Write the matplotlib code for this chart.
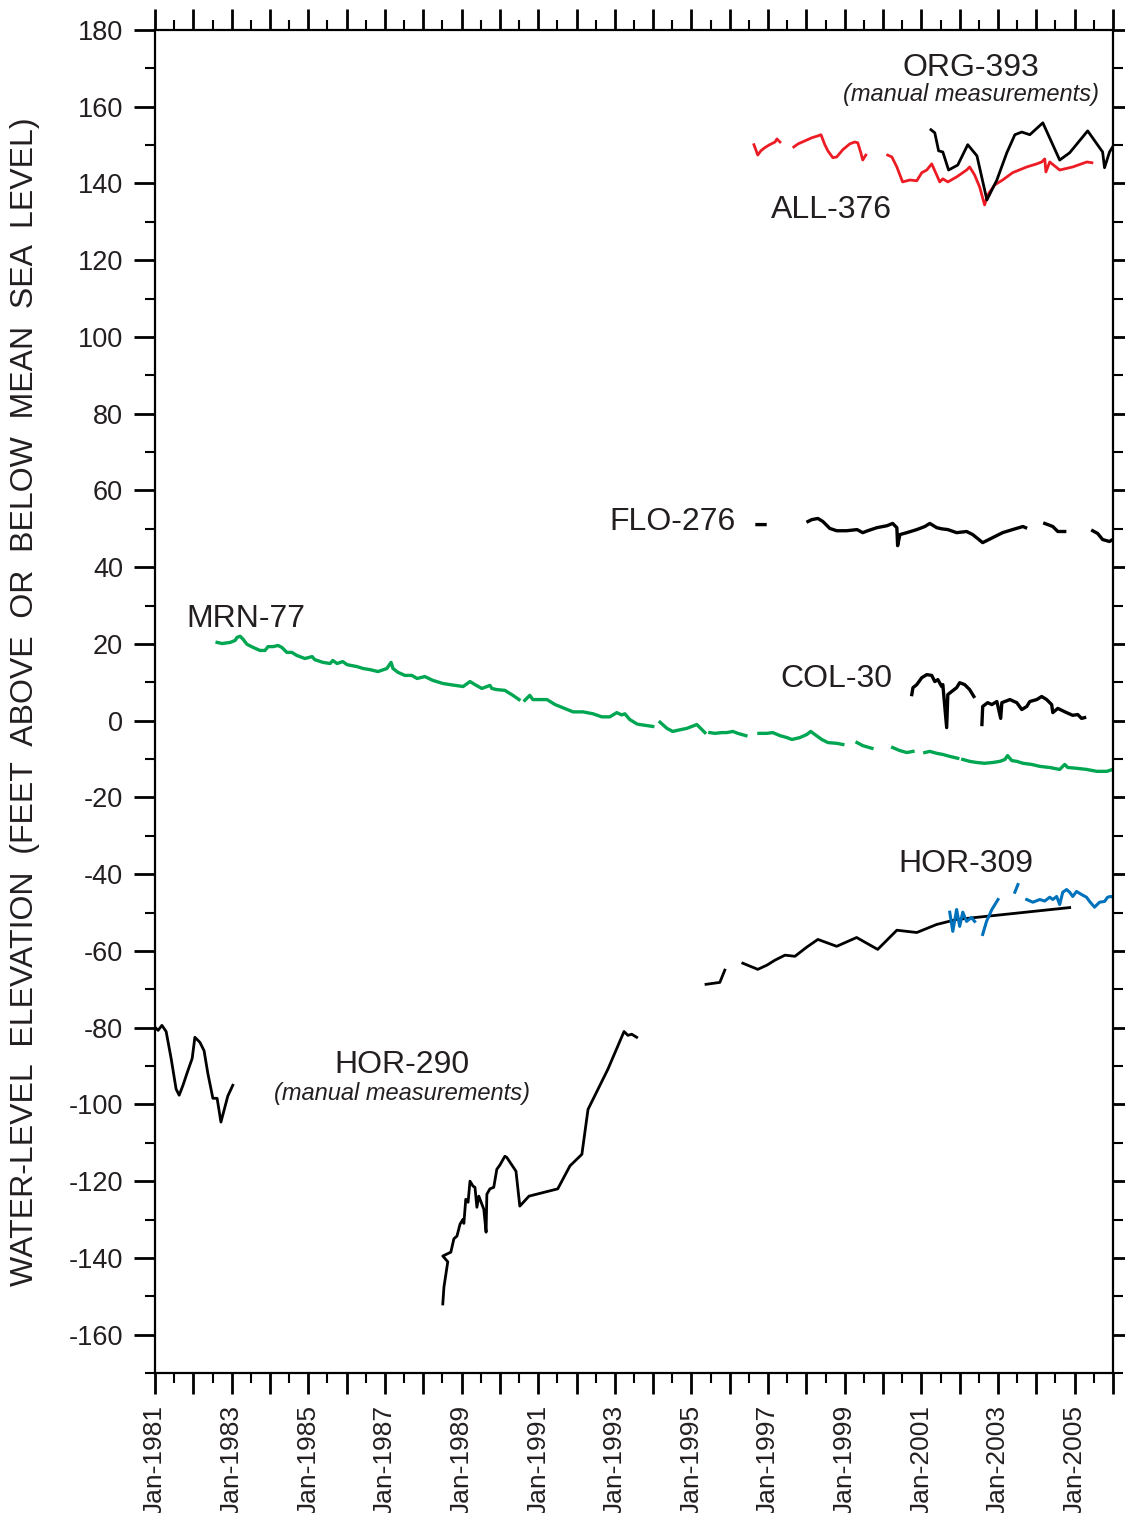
import numpy as np
import matplotlib
matplotlib.use("Agg")
import matplotlib.pyplot as plt
from matplotlib.ticker import MultipleLocator

plt.rcParams['font.family'] = ['Liberation Sans', 'DejaVu Sans']

nan = np.nan
TXT = "#231f20"

# HOR-290 (manual measurements), decimal years / feet
hor290_x = [1981.0, 1981.08, 1981.18, 1981.29, 1981.42, 1981.55, 1981.63, 1981.73, 1981.83,
            1981.97, 1982.04, 1982.17, 1982.28, 1982.38, 1982.51, 1982.62, 1982.72, 1982.90,
            1983.03, nan,
            1988.51, 1988.54, 1988.64, 1988.51, 1988.72, 1988.80, 1988.88, 1988.96, 1989.04,
            1989.06, 1989.11, 1989.17, 1989.22, 1989.30, 1989.35, 1989.40, 1989.45, 1989.53,
            1989.58, 1989.64, 1989.66, 1989.74, 1989.84, 1989.92, 1990.00, 1990.13, 1990.18,
            1990.42, 1990.52, 1990.76, 1991.51, 1991.83, 1992.14, 1992.30, 1992.82, 1993.24,
            1993.34, 1993.44, 1993.57]
hor290_y = [-79.9, -80.7, -79.4, -81.0, -88.0, -96.0, -97.6, -95.0, -92.0,
            -88.0, -82.5, -83.8, -86.0, -92.0, -98.4, -98.4, -104.6, -97.8,
            -95.0, nan,
            -152.0, -147.6, -141.0, -139.5, -138.5, -135.0, -134.3, -131.2, -129.9,
            -131.0, -124.7, -125.5, -120.0, -121.3, -121.6, -126.8, -123.9, -126.0,
            -127.3, -133.3, -123.4, -122.0, -121.6, -116.9, -115.8, -113.5, -113.8,
            -117.4, -126.5, -123.9, -122.0, -116.0, -113.0, -101.3, -90.8, -81.0,
            -82.0, -81.7, -82.5]

# HOR-309 manual (black)
hor309m_x = [1995.38, 1995.74, 1995.87, nan, 1996.34, 1996.73, 1996.97, 1997.18, 1997.44,
             1997.70, 1998.01, 1998.30, 1998.79, 1999.31, 1999.86, 2000.36, 2000.88,
             2001.40, 2001.92, 2004.87]
hor309m_y = [-68.7, -68.2, -65.0, nan, -63.2, -64.8, -63.7, -62.4, -61.1,
             -61.4, -59.0, -57.0, -58.8, -56.5, -59.6, -54.6, -55.2,
             -53.1, -51.8, -48.7]

# HOR-309 continuous (blue)
hor309_x = [2001.74, 2001.82, 2001.92, 2002.00, 2002.08, 2002.18, 2002.31, 2002.39, nan,
            2002.60, 2002.70, 2002.84, 2003.00, nan, 2003.44, 2003.52, nan,
            2003.75, 2003.91, 2004.09, 2004.22, 2004.35, 2004.43, 2004.53, 2004.61, 2004.69,
            2004.79, 2004.87, 2004.95, 2005.05, 2005.18, 2005.31, 2005.39, 2005.52, 2005.65,
            2005.78, 2005.86, 2005.94, 2006.0]
hor309_y = [-49.9, -54.9, -49.2, -53.6, -49.9, -52.3, -51.3, -52.3, nan,
            -55.7, -52.3, -49.2, -46.6, nan, -44.7, -42.7, nan,
            -46.6, -47.3, -46.6, -47.0, -46.0, -46.6, -45.8, -47.9, -44.7,
            -44.0, -44.7, -45.8, -44.5, -45.3, -46.0, -47.1, -48.6, -47.3,
            -47.1, -46.0, -45.8, -46.0]

# MRN-77 (green)
mrn_x = [1982.62, 1982.75, 1982.96, 1983.09, 1983.14, 1983.22, 1983.30, 1983.40, 1983.56,
         1983.74, 1983.87, 1983.95, 1984.08, 1984.21, 1984.31, 1984.44, 1984.57, 1984.70,
         1984.91, 1985.10, 1985.17, 1985.38, 1985.57, 1985.64, 1985.75, 1985.90, 1986.01,
         1986.27, 1986.43, 1986.61, 1986.82, 1987.05, 1987.16, 1987.21, 1987.34, 1987.52,
         1987.70, 1987.84, 1988.04, 1988.25, 1988.51, 1988.70, 1989.04, 1989.22, 1989.35,
         1989.53, 1989.74, 1989.79, 1989.92, 1990.13, 1990.34, 1990.50, nan,
         1990.65, 1990.78, 1990.86, 1991.04, 1991.23, 1991.44, 1991.64, 1991.91, 1992.17,
         1992.43, 1992.66, 1992.87, 1993.05, 1993.18, 1993.26, 1993.39, 1993.57, nan,
         1993.65, 1993.99, nan,
         1994.18, 1994.36, 1994.51, 1994.64, 1994.88, 1995.01, 1995.14, 1995.27, 1995.35, nan,
         1995.48, 1995.61, 1995.79, 1995.92, 1996.08, 1996.21, 1996.42, nan,
         1996.76, 1996.97, 1997.12, 1997.31, 1997.49, 1997.62, 1997.83, 1998.01, 1998.11,
         1998.22, 1998.40, 1998.56, 1998.79, 1998.95, nan,
         1999.32, 1999.47, 1999.71, nan,
         2000.25, 2000.44, 2000.62, 2000.78, nan,
         2001.09, 2001.22, 2001.40, 2001.56, 2001.74, 2001.95, nan,
         2002.08, 2002.26, 2002.45, 2002.65, 2002.86, 2003.05, 2003.18, 2003.25, 2003.36,
         2003.49, 2003.65, 2003.88, 2004.09, 2004.35, 2004.61, 2004.74, 2004.82, 2005.05,
         2005.31, 2005.58, 2005.84, 2005.99]
mrn_y = [20.4, 20.1, 20.4, 20.9, 21.7, 22.0, 21.2, 19.9, 19.1,
         18.3, 18.3, 19.3, 19.3, 19.6, 19.1, 17.8, 17.8, 17.0,
         16.2, 16.7, 15.9, 15.2, 14.9, 15.7, 14.9, 15.4, 14.6,
         14.1, 13.6, 13.3, 12.8, 13.6, 15.2, 13.6, 12.6, 11.8,
         11.8, 11.0, 11.5, 10.5, 9.7, 9.4, 8.9, 10.2, 9.4,
         8.4, 9.2, 8.4, 8.1, 7.9, 6.6, 5.5, nan,
         5.3, 6.6, 5.5, 5.5, 5.5, 4.2, 3.4, 2.3, 2.3,
         1.8, 1.0, 1.0, 2.1, 1.5, 1.8, 0.3, -0.8, nan,
         -1.0, -1.5, nan,
         -0.4, -2.0, -2.8, -2.5, -2.0, -1.5, -1.0, -2.3, -3.1, nan,
         -3.1, -3.3, -3.1, -3.1, -2.8, -3.3, -3.9, nan,
         -3.3, -3.3, -3.1, -3.9, -4.4, -4.9, -4.4, -3.6, -2.8,
         -3.6, -4.9, -5.7, -5.9, -6.2, nan,
         -5.7, -6.5, -7.2, nan,
         -7.0, -7.8, -8.3, -8.0, nan,
         -8.3, -8.0, -8.5, -8.8, -9.3, -9.8, nan,
         -10.1, -10.6, -10.9, -11.1, -10.9, -10.6, -10.1, -9.1, -10.4,
         -10.6, -11.1, -11.4, -11.9, -12.2, -12.7, -11.4, -12.2, -12.4,
         -12.7, -13.2, -13.2, -12.7]

# FLO-276
flo_x = [1996.71, 1996.92, nan,
         1998.04, 1998.14, 1998.30, 1998.43, 1998.61, 1998.79, 1999.05, 1999.32, 1999.47,
         1999.60, 1999.84, 2000.10, 2000.25, 2000.36, 2000.38, 2000.44, 2000.62, 2000.88,
         2001.09, 2001.22, 2001.40, 2001.53, 2001.69, 2001.92, 2002.18, 2002.34, 2002.60,
         2002.86, 2003.12, 2003.38, 2003.65, 2003.72, nan,
         2004.22, 2004.43, 2004.56, 2004.74, nan,
         2005.47, 2005.60, 2005.73, 2005.91, 2005.99]
flo_y = [51.1, 51.1, nan,
         51.9, 52.4, 52.7, 51.9, 50.1, 49.5, 49.5, 49.8, 49.0,
         49.5, 50.3, 50.8, 51.4, 50.3, 45.6, 48.5, 49.0, 49.8,
         50.6, 51.4, 50.3, 50.0, 49.8, 49.0, 49.3, 48.5, 46.4,
         47.7, 49.0, 49.8, 50.6, 50.3, nan,
         51.4, 50.6, 49.3, 49.3, nan,
         49.5, 48.8, 47.2, 46.7, 47.2]

# COL-30
col_x = [2000.75, 2000.78, 2000.88, 2001.01, 2001.14, 2001.27, 2001.35, 2001.43, 2001.53,
         2001.56, 2001.66, 2001.69, 2001.79, 2001.92, 2002.00, 2002.13, 2002.26, 2002.37, nan,
         2002.58, 2002.60, 2002.73, 2002.84, 2002.97, 2003.07, 2003.10, 2003.18, 2003.31,
         2003.49, 2003.62, 2003.75, 2003.83, 2004.01, 2004.14, 2004.27, 2004.40, 2004.43,
         2004.56, 2004.79, 2004.95, 2005.08, 2005.18, 2005.26]
col_y = [6.8, 8.6, 9.4, 11.2, 12.0, 11.8, 10.2, 10.7, 8.9,
         9.4, -1.8, 6.8, 7.6, 8.6, 9.9, 9.4, 8.1, 6.3, nan,
         -1.0, 3.7, 4.7, 4.2, 5.0, 0.6, 4.7, 5.0, 5.5,
         4.7, 2.9, 3.7, 5.0, 5.5, 6.3, 5.5, 4.2, 2.1,
         3.2, 2.1, 1.4, 1.6, 0.6, 0.8]

# ALL-376 (red)
all_x = [1996.63, 1996.73, 1996.81, 1996.91, 1997.04, 1997.18, 1997.23, 1997.31, nan,
         1997.67, 1997.78, 1997.96, 1998.14, 1998.30, 1998.38, 1998.48, 1998.56, 1998.69,
         1998.79, 1998.95, 1999.13, 1999.26, 1999.34, 1999.42, 1999.47, 1999.55, nan,
         2000.12, 2000.23, 2000.36, 2000.44, 2000.51, 2000.70, 2000.88, 2001.01, 2001.14,
         2001.27, 2001.40, 2001.48, 2001.56, 2001.69, 2001.92, 2002.18, 2002.26, 2002.39,
         2002.52, 2002.65, 2002.73, 2002.91, 2003.12, 2003.38, 2003.75, 2004.01, 2004.14,
         2004.22, 2004.25, 2004.35, 2004.61, 2004.95, 2005.32, 2005.45]
all_y = [150.1, 147.4, 148.5, 149.3, 150.1, 150.8, 151.6, 150.8, nan,
         149.5, 150.3, 151.1, 151.9, 152.4, 152.7, 150.1, 148.5, 146.7,
         146.9, 148.8, 150.3, 150.8, 150.6, 148.0, 146.1, 147.4, nan,
         147.4, 146.9, 144.3, 142.2, 140.4, 140.9, 140.7, 142.8, 143.5,
         145.1, 142.2, 140.4, 141.2, 140.4, 141.7, 143.5, 144.3, 142.2,
         139.1, 134.4, 137.0, 139.6, 140.9, 142.8, 144.3, 145.1, 145.6,
         146.4, 143.0, 145.6, 143.5, 144.3, 145.6, 145.4]

# ORG-393 (manual measurements)
org_x = [2001.25, 2001.35, 2001.45, 2001.56, 2001.71, 2001.95, 2002.21, 2002.45, 2002.71,
         2002.97, 2003.23, 2003.44, 2003.62, 2003.83, 2004.17, 2004.61, 2004.87, 2005.34,
         2005.73, 2005.78, 2005.91, 2005.99]
org_y = [154.0, 153.2, 148.5, 148.2, 143.5, 144.8, 150.1, 147.2, 135.7,
         140.9, 148.0, 152.7, 153.4, 152.7, 155.8, 146.1, 148.0, 153.7,
         148.2, 144.1, 148.2, 149.5]

label_years = list(range(1981, 2006, 2))

fig = plt.figure(figsize=(11.25, 15.13), dpi=100)
ax = fig.add_axes([0.1378, 0.0925, 0.9893 - 0.1378, 0.9802 - 0.0925])

lw = 2.0
ax.plot(mrn_x, mrn_y, color="#00a651", lw=2.4)
ax.plot(hor290_x, hor290_y, color="black", lw=lw)
ax.plot(hor309m_x, hor309m_y, color="black", lw=lw)
ax.plot(hor309_x, hor309_y, color="#0072bc", lw=2.2)
ax.plot(flo_x, flo_y, color="black", lw=2.4)
ax.plot(col_x, col_y, color="black", lw=2.4)
ax.plot(all_x, all_y, color="#ed1c24", lw=2.0)
ax.plot(org_x, org_y, color="black", lw=lw)

ax.set_xlim(1981, 2006)
ax.set_ylim(-170, 180)

ax.set_xticks(range(1981, 2007))
ax.xaxis.set_minor_locator(MultipleLocator(0.5))
ax.set_xticklabels([f"Jan-{y}" if y in label_years else "" for y in range(1981, 2007)],
                   rotation=90, fontsize=19, color=TXT)
ax.set_yticks(range(-160, 181, 20))
ax.yaxis.set_minor_locator(MultipleLocator(10))
ax.set_yticklabels([str(v) for v in range(-160, 181, 20)], fontsize=19.5, color=TXT)

ax.tick_params(which="major", direction="out", length=15, width=2,
               top=True, right=True, pad=8)
ax.tick_params(which="minor", direction="out", length=7.5, width=1.5,
               top=True, right=True)
for s in ax.spines.values():
    s.set_linewidth(1.6)

ax.set_ylabel("WATER-LEVEL  ELEVATION  (FEET  ABOVE  OR  BELOW  MEAN  SEA  LEVEL)",
              fontsize=23, color=TXT)
ax.yaxis.set_label_coords(-0.12, 0.5)

fs = 23
ax.text(2002.29, 168.0, "ORG-393", fontsize=fs, ha="center", va="baseline", color=TXT)
ax.text(2002.29, 161.5, "(manual measurements)", fontsize=17, style="italic",
        ha="center", va="baseline", color=TXT)
ax.text(1998.66, 131.0, "ALL-376", fontsize=fs, ha="center", va="baseline", color=TXT)
ax.text(1994.51, 49.8, "FLO-276", fontsize=fs, ha="center", va="baseline", color=TXT)
ax.text(1983.37, 24.3, "MRN-77", fontsize=fs, ha="center", va="baseline", color=TXT)
ax.text(1998.77, 8.9, "COL-30", fontsize=fs, ha="center", va="baseline", color=TXT)
ax.text(2002.16, -39.5, "HOR-309", fontsize=fs, ha="center", va="baseline", color=TXT)
ax.text(1987.44, -91.9, "HOR-290", fontsize=fs, ha="center", va="baseline", color=TXT)
ax.text(1987.44, -98.9, "(manual measurements)", fontsize=17, style="italic",
        ha="center", va="baseline", color=TXT)

fig.savefig("out.png", dpi=100)
